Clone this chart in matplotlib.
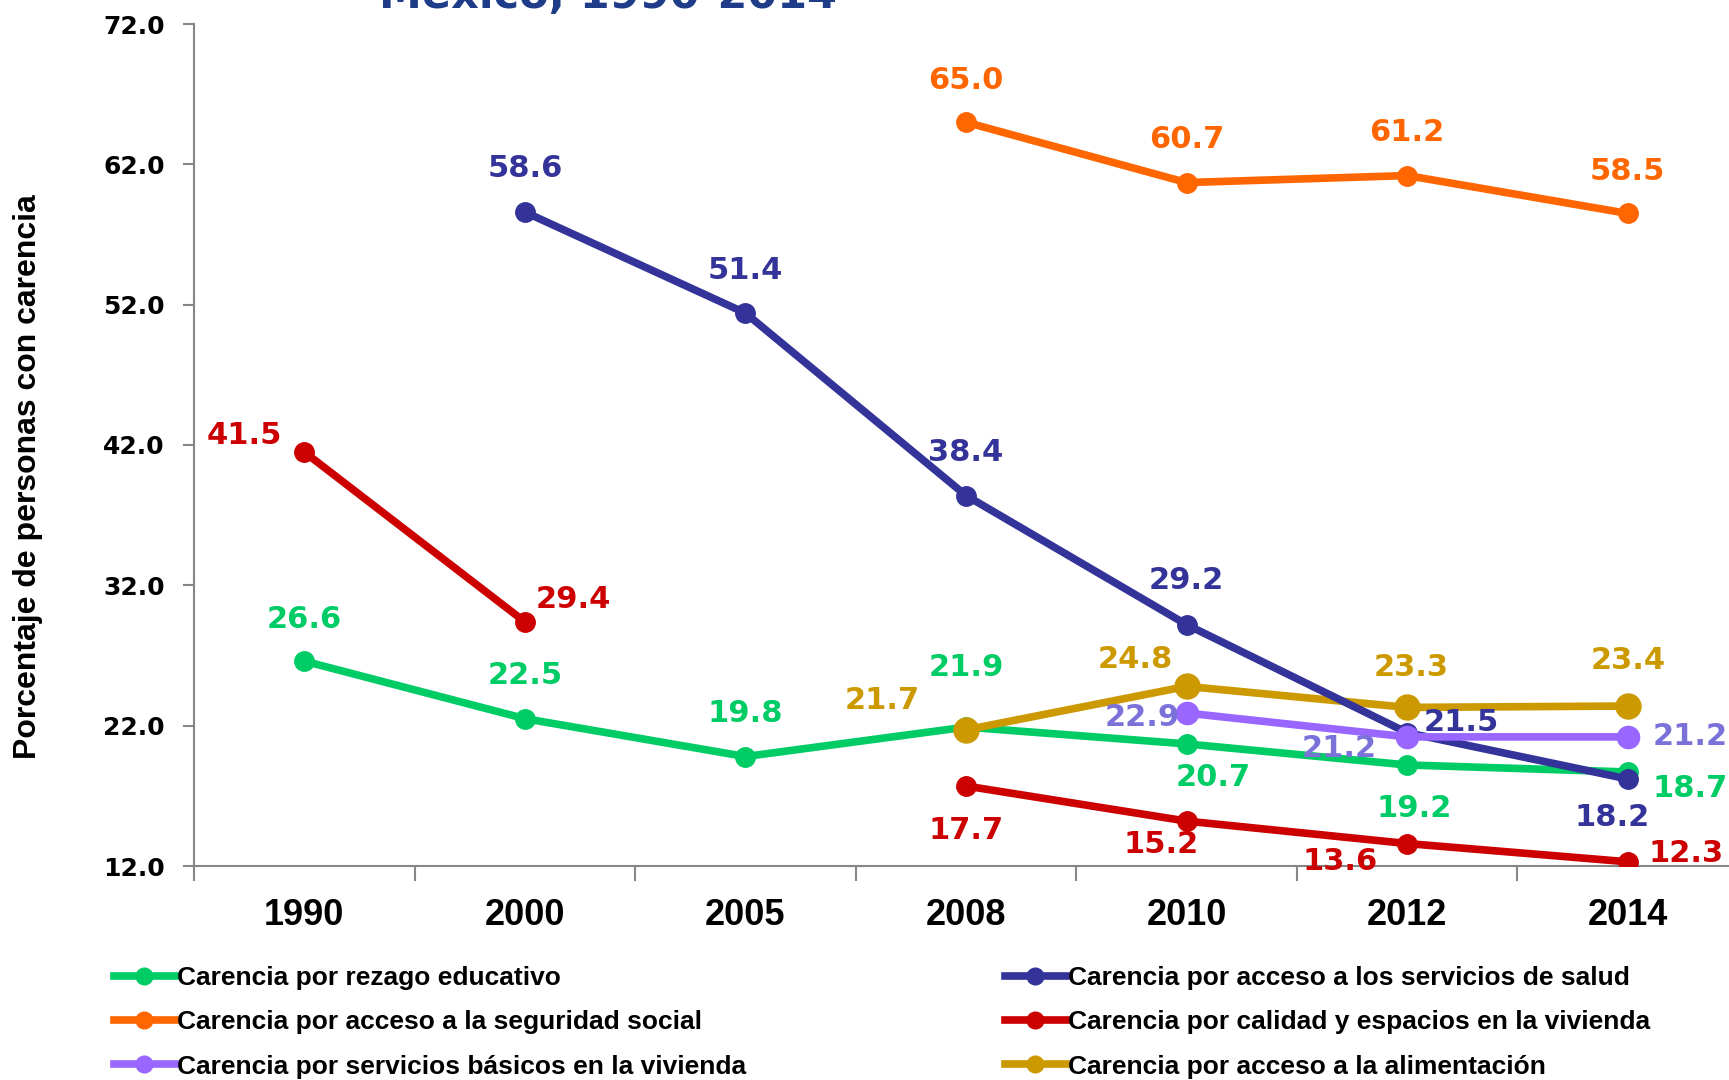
import matplotlib
matplotlib.use("Agg")
import matplotlib.pyplot as plt
from matplotlib.lines import Line2D
import numpy as np

years = ["1990", "2000", "2005", "2008", "2010", "2012", "2014"]
nan = np.nan

educativo = [26.6, 22.5, 19.8, 21.9, 20.7, 19.2, 18.7]
salud = [nan, 58.6, 51.4, 38.4, 29.2, 21.5, 18.2]
seguridad = [nan, nan, nan, 65.0, 60.7, 61.2, 58.5]
vivienda = [41.5, 29.4, nan, 17.7, 15.2, 13.6, 12.3]
servicios = [nan, nan, nan, nan, 22.9, 21.2, 21.2]
alimentacion = [nan, nan, nan, 21.7, 24.8, 23.3, 23.4]

names = {
    "educativo": "Carencia por rezago educativo",
    "salud": "Carencia por acceso a los servicios de salud",
    "seguridad": "Carencia por acceso a la seguridad social",
    "vivienda": "Carencia por calidad y espacios en la vivienda",
    "servicios": "Carencia por servicios básicos en la vivienda",
    "alimentacion": "Carencia por acceso a la alimentación",
}

# label offsets in points (dx, dy)
off_educ = [(0, 30), (0, 31), (0, 31), (0, 43), (19, -24), (5, -31), (45, -12)]
off_salud = [None, (0, 31), (0, 31), (0, 31), (0, 32), (39, 7), (-11, -28)]
off_seg = [None, None, None, (0, 30), (0, 31), (0, 31), (0, 30)]
off_viv = [(-43, 12), (35, 16), None, (0, -32), (-18, -17), (-48, -13), (42, 6)]
off_serv = [None, None, None, None, (-32, -3), (-49, -8), (45, 0)]
off_alim = [None, None, None, (-60, 21), (-37, 19), (3, 29), (0, 33)]

W, H = 1729, 1080
fig = plt.figure(figsize=(W / 100, H / 100), dpi=100)
left_px, right_px, top_px, bot_px = 194, 1738, 24, 866
ax = fig.add_axes([left_px / W, 1 - bot_px / H, (right_px - left_px) / W, (bot_px - top_px) / H])

x = np.arange(len(years))
gray = "#868686"
narrow = ["Liberation Sans", "DejaVu Sans"]

series = [
    ("educativo", educativo, "#00CC66", "#00CC66", 14, off_educ),
    ("vivienda", vivienda, "#CC0000", "#CC0000", 14, off_viv),
    ("seguridad", seguridad, "#FF6600", "#FF6600", 14, off_seg),
    ("alimentacion", alimentacion, "#CC9900", "#CC9900", 18, off_alim),
    ("salud", salud, "#333399", "#333399", 14, off_salud),
    ("servicios", servicios, "#9966FF", "#7B72D9", 16, off_serv),
]
handles = {}
for key, vals, col, lcol, ms, offs in series:
    v = np.array(vals, dtype=float)
    ax.plot(x, v, color=col, lw=5.5, marker="o", ms=ms, mec=col, mfc=col, zorder=3)
    handles[key] = Line2D([], [], color=col, lw=5.5, marker="o", ms=12, mec=col, mfc=col)
    for xi, yi, o in zip(x, v, offs):
        if np.isnan(yi) or o is None:
            continue
        ax.annotate(f"{yi:.1f}", (xi, yi), xytext=o, textcoords="offset points",
                    ha="center", va="center", color=lcol, fontsize=22,
                    fontweight="bold", family="DejaVu Sans", zorder=5,
                    annotation_clip=False)

ax.set_xlim(-0.5, len(years) - 0.5)
ax.set_ylim(12, 72)
ax.set_yticks(np.arange(12, 73, 10))
ax.set_yticklabels([f"{t:.1f}" for t in np.arange(12, 73, 10)], fontsize=18,
                   fontweight="bold", family="DejaVu Sans")
ax.set_xticks(x)
ax.set_xticklabels(years, fontsize=26, fontweight="bold", family=narrow)
ax.set_xticks(np.arange(-0.5, len(years) + 0.5, 1), minor=True)
ax.tick_params(axis="x", which="major", length=0, pad=23)
ax.tick_params(axis="x", which="minor", length=11, width=1.5, color=gray, direction="out")
ax.tick_params(axis="y", length=8, width=1.5, color=gray, pad=13)
for s in ["top", "right"]:
    ax.spines[s].set_visible(False)
for s in ["left", "bottom"]:
    ax.spines[s].set_color(gray)
    ax.spines[s].set_linewidth(1.5)

fig.text(28 / W, 1 - 477 / H, "Porcentaje de personas con carencia", rotation=90,
         ha="center", va="center", fontsize=23, fontweight="bold", family=narrow)

fig.text(608 / W, 1 - 8 / H, "México, 1990-2014", ha="center", va="baseline",
         fontsize=31, fontweight="bold", color="#1F3C88", family="DejaVu Sans")

leg_kw = dict(frameon=False, handlelength=2.3, handletextpad=0.1, labelspacing=0.77,
              borderpad=0, borderaxespad=0, loc="upper left",
              prop={"family": narrow, "weight": "bold", "size": 19})
fig.legend([handles[k] for k in ["educativo", "seguridad", "servicios"]],
           [names[k] for k in ["educativo", "seguridad", "servicios"]],
           bbox_to_anchor=(114 / W, 1 - 966 / H), **leg_kw)
fig.legend([handles[k] for k in ["salud", "vivienda", "alimentacion"]],
           [names[k] for k in ["salud", "vivienda", "alimentacion"]],
           bbox_to_anchor=(1005 / W, 1 - 966 / H), **leg_kw)

fig.savefig("out.png", dpi=100)
